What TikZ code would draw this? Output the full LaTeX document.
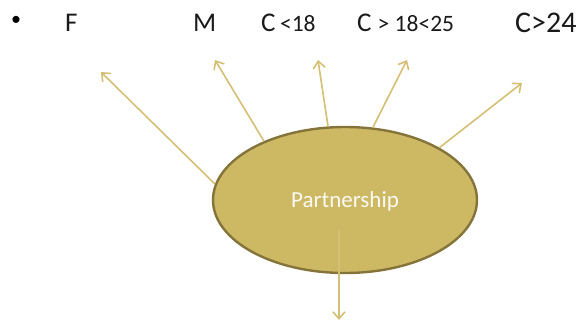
\documentclass[tikz,border=0pt]{standalone}
\usepackage{fontspec}
\setmainfont{Carlito}
\usetikzlibrary{shapes.geometric,arrows.meta}
\definecolor{arrowgold}{HTML}{D4BF74}
\definecolor{ellfill}{HTML}{CDB964}
\definecolor{elldraw}{HTML}{85743A}
\definecolor{txtdark}{HTML}{1A1A1A}
\begin{document}
\begin{tikzpicture}[x=1pt,y=-1pt,
  conn/.style={draw=arrowgold,line width=1.6pt,-{Straight Barb[length=7pt,width=12pt,line width=1.6pt]}},
  lbl/.style={anchor=base west,inner sep=0pt,text=txtdark},
  big/.style={font=\fontsize{27}{30}\selectfont},
]
\useasboundingbox (0,0) rectangle (583,322);
% labels
\node[inner sep=0pt,font=\fontsize{20}{22}\selectfont] (bul) at (16,21) {•};
\node[lbl,big] (f) at (65,31) {F};
\node[lbl,big] (m) at (193,31) {M};
\node[lbl] (c1) at (261,31) {\fontsize{27}{30}\selectfont C\,\fontsize{23.5}{26}\selectfont<18};
\node[lbl] (c2) at (357,31) {\fontsize{27}{30}\selectfont C \fontsize{23.5}{26}\selectfont> 18<25};
\node[lbl,font=\fontsize{30}{33}\selectfont] (c3) at (515,32) {C>24};
% arrow ends
\coordinate (e1) at (101,72);
\coordinate (e2) at (215,60);
\coordinate (e3) at (318,60);
\coordinate (e4) at (407,60);
\coordinate (e5) at (522,83);
\coordinate (dstart) at (339,230);
\coordinate (dend) at (339,320);
% ellipse
\node[ellipse,fill=ellfill,draw=elldraw,line width=2.4pt,minimum width=264pt,minimum height=146pt,inner sep=0pt] (p) at (345,200) {};
\node[inner sep=0pt,text=white!92!ellfill,font=\fontsize{23}{25}\selectfont,anchor=base] (pt) at (345,207) {Partnership};
% connectors
\draw[conn] (p.173.5) -- (e1);
\draw[conn] (p.144) -- (e2);
\draw[conn] (p.103) -- (e3);
\draw[conn] (p.69) -- (e4);
\draw[conn] (p.29) -- (e5);
\draw[conn] (dstart) -- (dend);
\end{tikzpicture}
\end{document}
